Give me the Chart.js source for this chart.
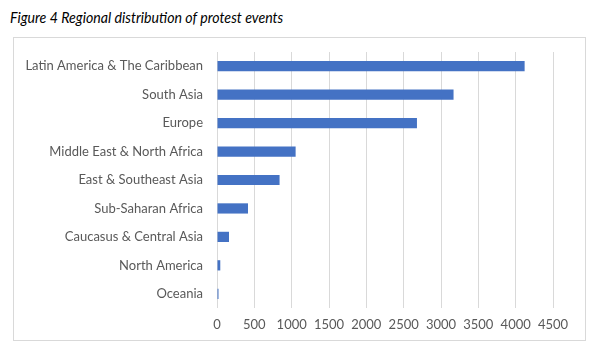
<!DOCTYPE html>
<html>
<head>
<meta charset="utf-8">
<script src="https://cdn.jsdelivr.net/npm/chart.js@4"></script>
<style>
    body { margin: 0; background: #fff; width: 600px; height: 350px; overflow: hidden; }
    .title { position: absolute; left: 10px; top: 7px; font: italic 16px Lato, sans-serif; color: #000;
        transform: scaleX(0.885); transform-origin: left top; white-space: nowrap; }
    .frame { position: absolute; left: 13px; top: 37px; width: 571px; height: 302px; border: 1px solid #d9d9d9; }
    .frame canvas { display: block; }
</style>
</head>
<body>
<div class="title">Figure 4 Regional distribution of protest events</div>
<div class="frame"><canvas id="regions" width="571" height="302"></canvas></div>
<script>
const regions = ["Latin America & The Caribbean", "South Asia", "Europe", "Middle East & North Africa",
    "East & Southeast Asia", "Sub-Saharan Africa", "Caucasus & Central Asia", "North America", "Oceania"];
const events = [4120, 3168, 2678, 1053, 838, 415, 161, 44, 20];
const xMax = 4500;
const xStep = 500;

var ctx = document.getElementById('regions').getContext('2d');
var regionChart = new Chart(ctx, {
    type: 'bar',
    data: {
        labels: regions,
        datasets: [{
            data: events,
            backgroundColor: '#4472c4',
            borderWidth: 0,
            categoryPercentage: 1,
            barPercentage: 0.36
        }]
    },
    options: {
        indexAxis: 'y',
        responsive: false,
        animation: false,
        layout: { padding: { top: 14, right: 32, bottom: 0, left: 0 } },
        plugins: { legend: { display: false }, tooltip: { enabled: false } },
        scales: {
            x: {
                min: 0,
                max: xMax,
                afterFit: function (scale) {
                    scale.height = 32;
                    scale.paddingLeft = 0;
                    scale.paddingRight = 0;
                },
                grid: { color: '#d9d9d9', drawTicks: false },
                border: { display: false },
                ticks: {
                    stepSize: xStep,
                    maxRotation: 0,
                    minRotation: 0,
                    autoSkip: false,
                    color: '#595959',
                    padding: 9,
                    font: { family: 'Lato', size: 13 },
                    callback: function (value) { return String(value); }
                }
            },
            y: {
                afterFit: function (scale) {
                    scale.width = 203;
                    scale.paddingTop = 0;
                    scale.paddingBottom = 0;
                },
                grid: { display: false, drawTicks: false },
                border: { display: false },
                ticks: { color: '#595959', padding: 14, font: { family: 'Lato', size: 13 } }
            }
        }
    }
});
</script>
</body>
</html>
